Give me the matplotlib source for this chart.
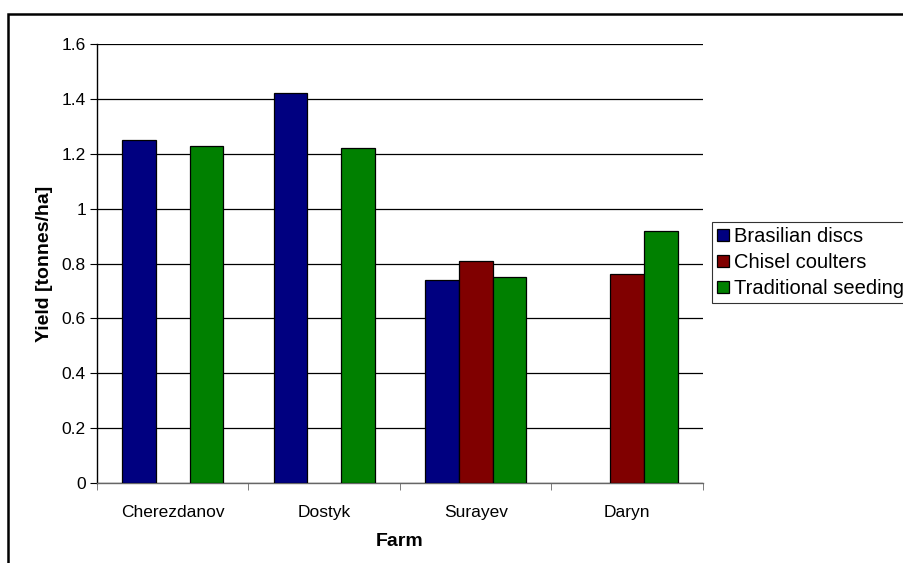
import numpy as np
import matplotlib
matplotlib.use("Agg")
import matplotlib.pyplot as plt
from matplotlib.patches import Rectangle

plt.rcParams['font.family'] = ['Liberation Sans', 'DejaVu Sans']

# Daten
farms = ['Cherezdanov', 'Dostyk', 'Surayev', 'Daryn']
series_names = ['Brasilian discs', 'Chisel coulters', 'Traditional seeding']
brasilian = [1.25, 1.42, 0.74, np.nan]
chisel = [np.nan, np.nan, 0.81, 0.76]
traditional = [1.23, 1.22, 0.75, 0.92]
colors = ['#000080', '#800000', '#008000']
yticks = [0, 0.2, 0.4, 0.6, 0.8, 1, 1.2, 1.4, 1.6]
ytick_labels = ['0', '0.2', '0.4', '0.6', '0.8', '1', '1.2', '1.4', '1.6']

W, H = 904, 563
fig = plt.figure(figsize=(W / 100, H / 100), dpi=100)
ax = fig.add_axes([97 / W, (H - 483) / H, (703 - 97) / W, (483 - 44) / H])

x = np.arange(len(farms))
w = 1 / 4.5
for i, (vals, name) in enumerate(zip([brasilian, chisel, traditional], series_names)):
    ax.bar(x + (i - 1) * w, vals, width=w, color=colors[i], edgecolor='black',
           linewidth=0.9, label=name, zorder=3)

ax.set_xlim(-0.5, len(farms) - 0.5)
ax.set_ylim(0, 1.6)
ax.set_yticks(yticks)
ax.set_yticklabels(ytick_labels)
ax.yaxis.grid(True, color='black', linewidth=0.9, zorder=0)

ax.set_xticks(x)
ax.set_xticklabels(farms)
ax.set_xticks(np.arange(-0.5, len(farms)), minor=True)
ax.tick_params(axis='x', which='major', length=0, pad=16, labelsize=12.5)
ax.tick_params(axis='x', which='minor', length=5, direction='out', color='#666666')
ax.tick_params(axis='y', length=5, direction='out', pad=3, labelsize=12.5)

for s in ['top', 'right']:
    ax.spines[s].set_visible(False)
ax.spines['left'].set_linewidth(1)
ax.spines['bottom'].set_color('#666666')
ax.spines['bottom'].set_linewidth(1)

ax.set_xlabel('Farm', fontsize=14, fontweight='bold', labelpad=9)
ax.set_ylabel('Yield [tonnes/ha]', fontsize=14, fontweight='bold', labelpad=6)

leg = fig.legend(loc='upper left', bbox_to_anchor=(712 / W, (H - 222) / H),
                 fontsize=14.5, frameon=True, fancybox=False, edgecolor='black',
                 handlelength=0.6, handleheight=0.6, handletextpad=0.25,
                 borderpad=0.25, labelspacing=0.35, borderaxespad=0)
leg.get_frame().set_linewidth(0.8)

# Rahmen um die Grafik
fig.add_artist(Rectangle((8 / W, -0.1), 1.2, (H - 14) / H + 0.1, transform=fig.transFigure,
                         fill=False, edgecolor='black', linewidth=1.8))

fig.savefig('out.png', dpi=100)
